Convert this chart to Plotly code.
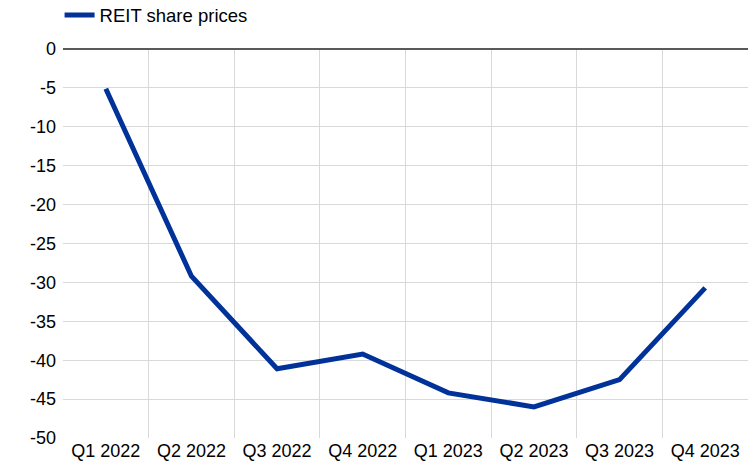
import plotly.graph_objects as go

categories = ["Q1 2022", "Q2 2022", "Q3 2022", "Q4 2022", "Q1 2023", "Q2 2023", "Q3 2023", "Q4 2023"]
reit_share_prices = [-5.1, -29.2, -41.1, -39.2, -44.2, -46.0, -42.5, -30.7]
y_ticks = [0, -5, -10, -15, -20, -25, -30, -35, -40, -45, -50]

fig = go.Figure()
fig.add_trace(go.Scatter(
    x=categories, y=reit_share_prices, mode="lines", name="REIT share prices",
    line=dict(color="#003299", width=5), showlegend=True,
))

fig.update_layout(
    width=749, height=470,
    margin=dict(l=63, r=1, t=49, b=32, autoexpand=False),
    paper_bgcolor="white", plot_bgcolor="white",
    font=dict(family="Arial, Liberation Sans, sans-serif", size=18, color="#000000"),
    showlegend=True,
    legend=dict(x=-0.005, y=1.135, xanchor="left", yanchor="top",
                orientation="h", font=dict(size=18.5), itemwidth=30,
                bgcolor="rgba(0,0,0,0)"),
)
fig.update_xaxes(
    type="category", range=[-0.5, 7.5], tickson="boundaries", showgrid=True,
    gridcolor="#d9d9d9", gridwidth=1,
    ticks="", showline=False, zeroline=False, tickfont=dict(size=18),
)
fig.update_yaxes(
    range=[-50, 0], tickvals=y_ticks, ticktext=[str(v) for v in y_ticks],
    showgrid=True, gridcolor="#d9d9d9", gridwidth=1, zeroline=True,
    zerolinecolor="#595959", zerolinewidth=2, ticks="", showline=False,
    tickfont=dict(size=18), ticklabelstandoff=6,
)
fig.write_html("out.html", config={"displayModeBar": False},
               post_script="document.body.style.margin='0';document.body.style.padding='0';")
